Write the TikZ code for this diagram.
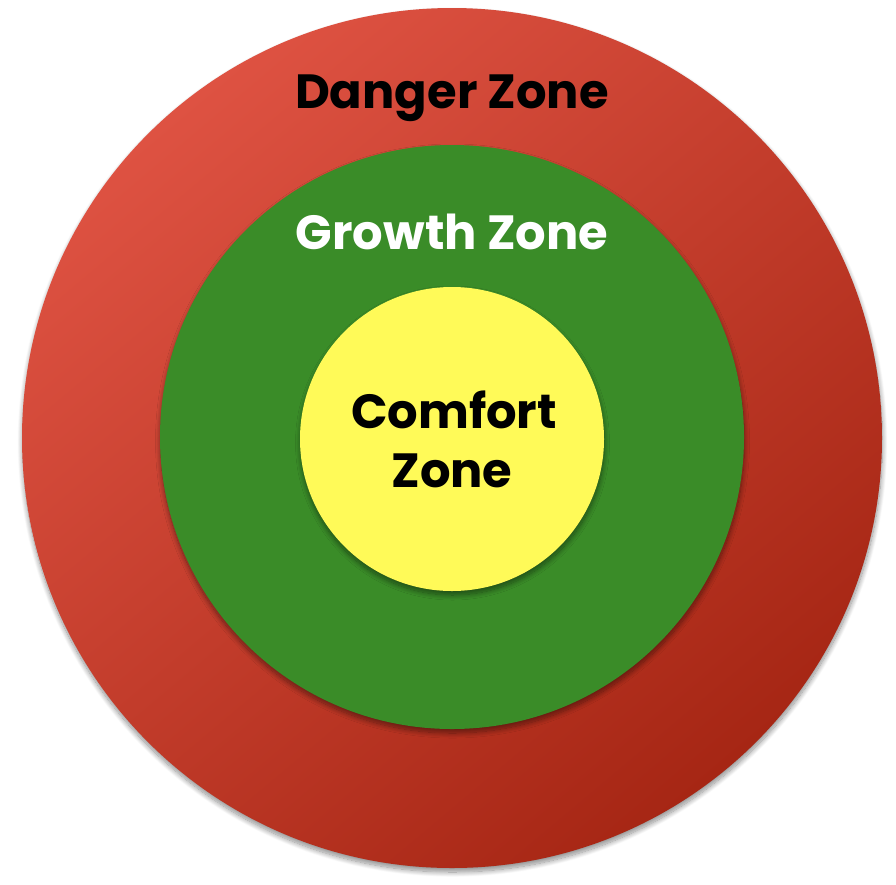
\documentclass[tikz,border=0pt]{standalone}
\usepackage{fontspec}
\newfontfamily\zonefont{Poppins}
\usetikzlibrary{shadows.blur}
\definecolor{redlight}{RGB}{222,82,66}
\definecolor{reddark}{RGB}{166,38,20}
\definecolor{zonegreen}{RGB}{58,140,40}
\definecolor{zoneyellow}{RGB}{255,250,88}
\tikzset{
  zone/.style={circle, inner sep=0pt, draw=none,
    blur shadow={shadow xshift=0.5pt, shadow yshift=-4pt, shadow blur radius=5pt, shadow blur steps=14, shadow opacity=45}},
  zonelabel/.style={font=\zonefont\bfseries\fontsize{48}{56}\selectfont, anchor=base, inner sep=0pt, align=center}
}
\begin{document}
\begin{tikzpicture}[x=1pt,y=-1pt]
\useasboundingbox (0,0) rectangle (896,884);
\node[zone, minimum size=860pt, top color=redlight, bottom color=reddark, shading angle=40] (danger) at (452,438) {};
\node[zone, minimum size=584pt, fill=zonegreen] (growth) at (452,437) {};
\node[zone, minimum size=304pt, fill=zoneyellow] (comfort) at (452,439) {};
\node[zonelabel, text=black] (dangerlabel) at (452,108) {Danger Zone};
\node[zonelabel, text=white] (growthlabel) at (452,249) {Growth Zone};
\node[zonelabel, text=black] (comfortlabel) at (454,428) {Comfort};
\node[zonelabel, text=black] (zonelabel2) at (452,487) {Zone};
\end{tikzpicture}
\end{document}
